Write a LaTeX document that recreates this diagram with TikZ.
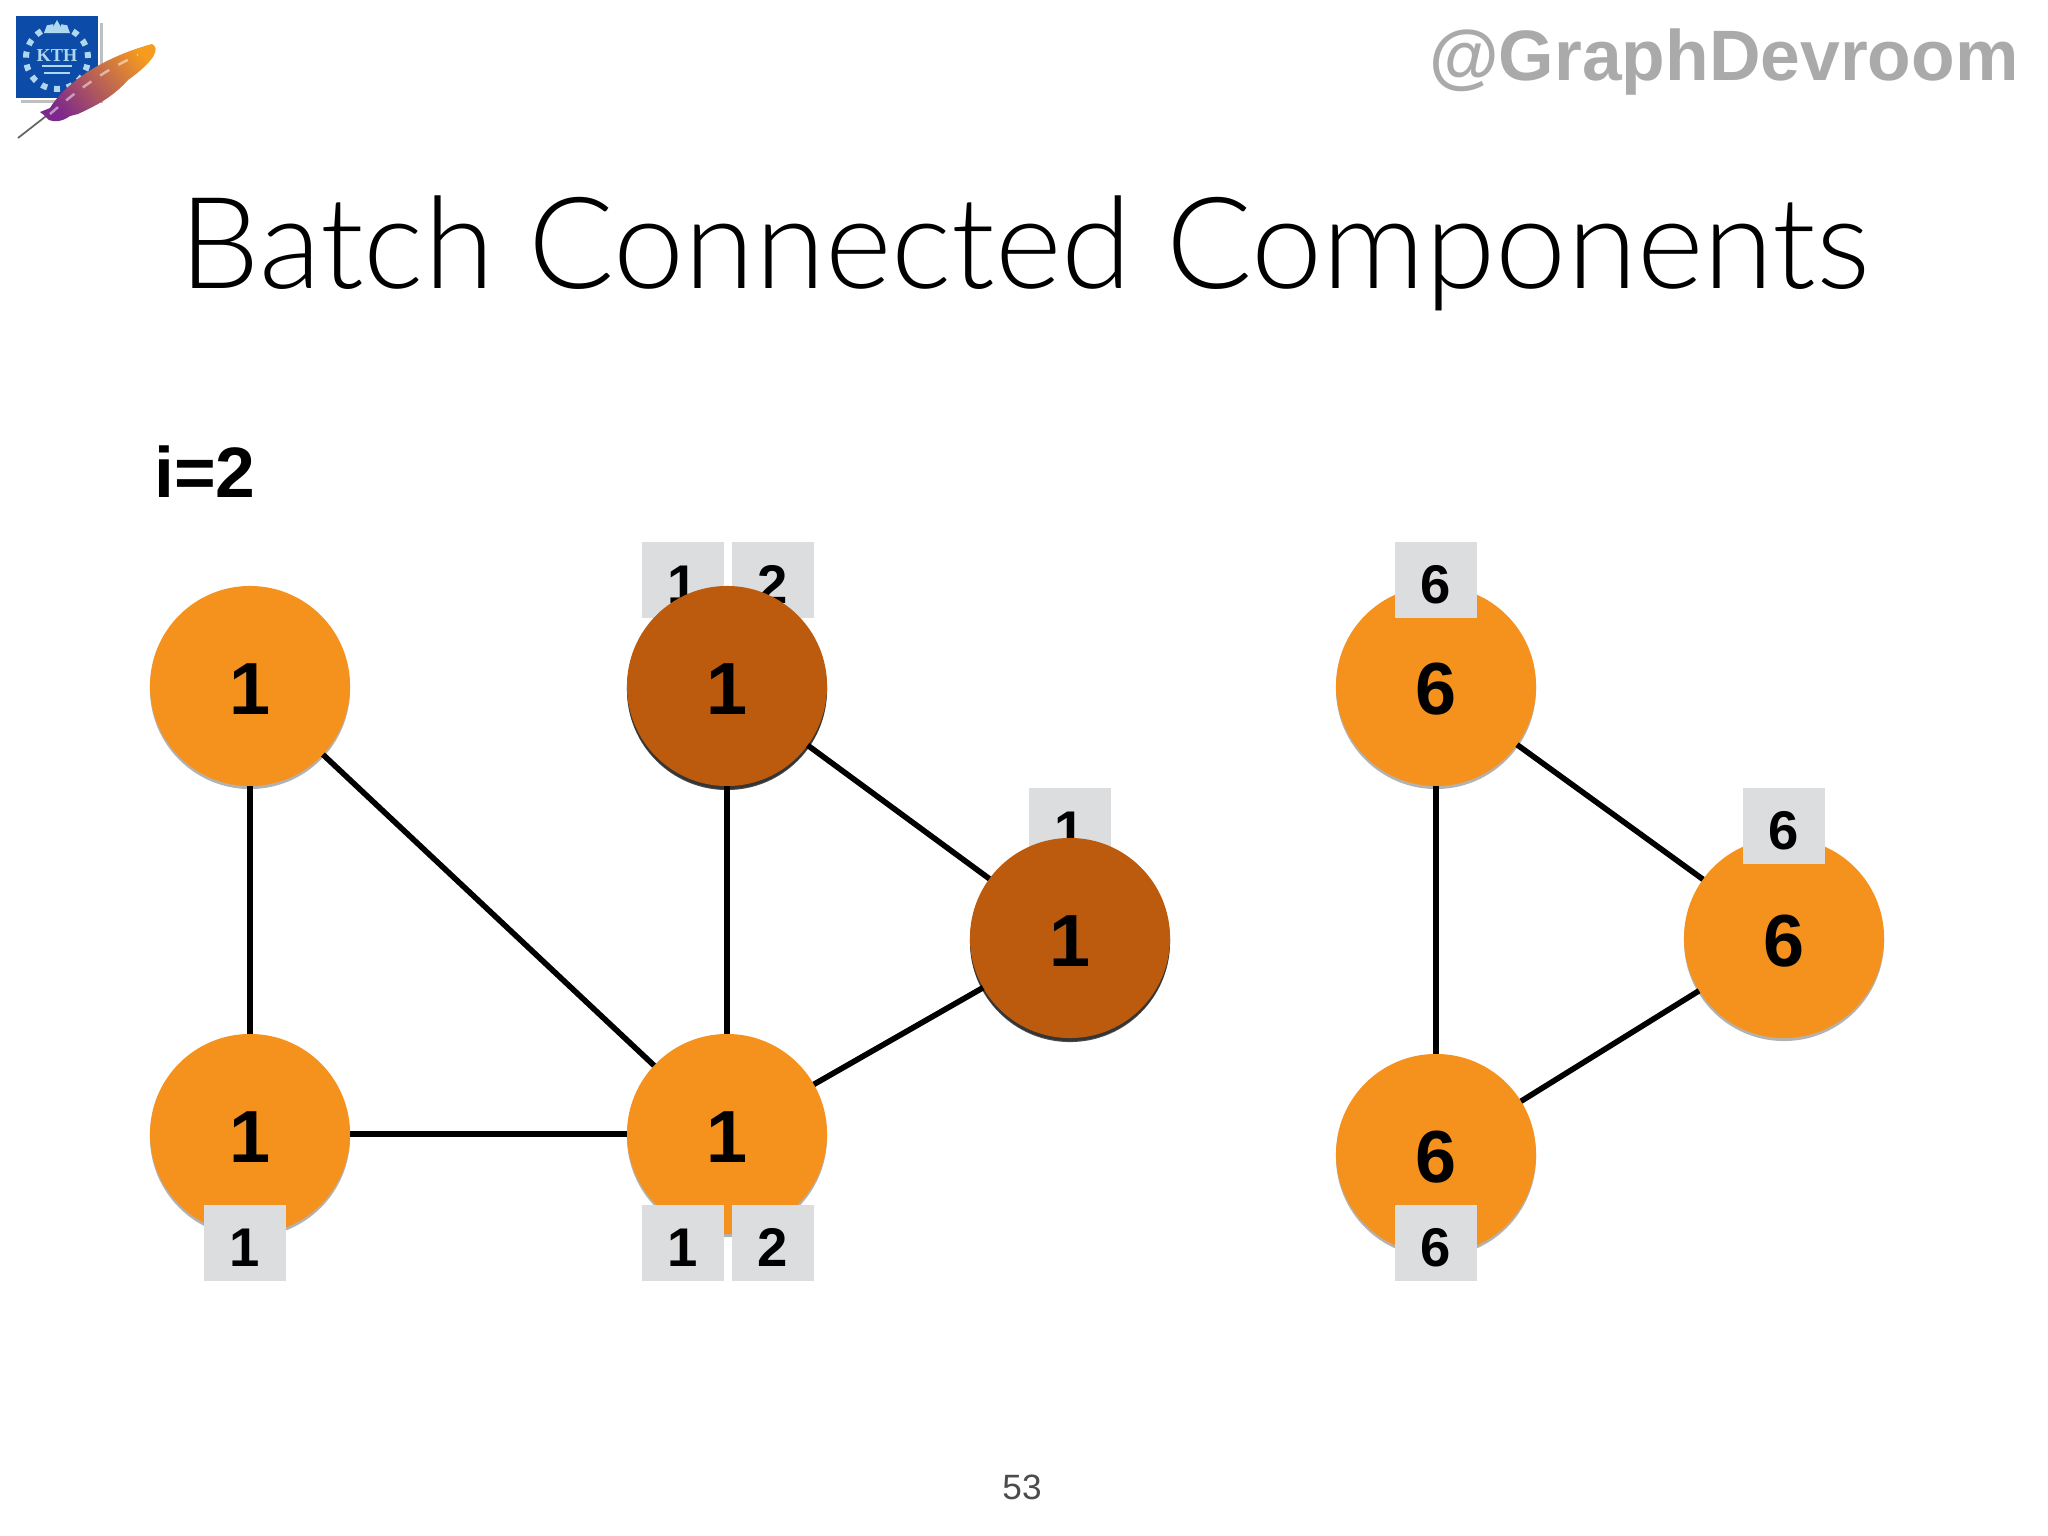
\documentclass[tikz,border=0pt]{standalone}
\usepackage{fontspec}
\setmainfont{Liberation Sans}
\newfontfamily\titlefont{Lato Light}
\newfontfamily\crestfont{Liberation Serif}
\usepackage{xcolor}
\usetikzlibrary{shadows}
\definecolor{amber}{RGB}{245,146,30}
\definecolor{rust}{RGB}{188,91,13}
\definecolor{tagsilver}{RGB}{220,221,223}
\definecolor{handlegray}{RGB}{170,170,170}
\definecolor{kthblue}{RGB}{12,76,168}
\definecolor{crestblue}{RGB}{175,215,238}
\definecolor{plume}{RGB}{125,40,140}
\definecolor{crimson}{RGB}{205,30,75}
\definecolor{plumetip}{RGB}{245,155,30}
\tikzset{%
    main node/.style={%
        circle,fill=amber,text=black,inner sep=0pt,outer sep=0pt,minimum size=2cm,
        font=\fontsize{21}{21}\selectfont\bfseries,text height=16pt,text depth=0pt,
        drop shadow={shadow xshift=0pt,shadow yshift=-0.03cm,opacity=.3,fill=black}
    },
    active node/.style={%
        main node,fill=rust,
        drop shadow={shadow xshift=0pt,shadow yshift=-0.04cm,opacity=.7,fill=black}
    },
    tag/.style={%
        rectangle,fill=tagsilver,inner sep=0pt,minimum width=0.82cm,minimum height=0.76cm,
        font=\fontsize{15.5}{15.5}\selectfont\bfseries,text height=13.4pt,text depth=0pt
    }
}

\begin{document}
\begin{tikzpicture}[x=0.01cm,y=-0.01cm,line width=1.6pt]
  \useasboundingbox (0,0) rectangle (2048,1536);

  % logo
  \fill[black,opacity=.25] (21,23) rectangle (103,103);
  \fill[white] (14,14) rectangle (100,100);
  \fill[kthblue] (16,16) rectangle (98,98);
  \draw[crestblue,line width=1.7pt,dotted] (57,58) circle (0.31cm);
  \fill[crestblue] (44,33) -- (47,25) -- (52,29) -- (57,20) -- (62,29) -- (67,25) -- (70,33) -- cycle;
  \node[text=crestblue,inner sep=0pt,font=\crestfont\bfseries\fontsize{5.2}{5.2}\selectfont] (kth) at (57,56) {KTH};
  \draw[crestblue,line width=.6pt] (42,66) -- (72,66) (44,73) -- (70,73);
  \draw[black!60,line width=.5pt] (18,138) -- (50,113);
  \shade[left color=plume,middle color=crimson,right color=plumetip,shading angle=130]
    (40,112) -- (50,108) .. controls (64,85) and (100,58) .. (152,44)
    .. controls (160,48) and (156,60) .. (128,80)
    .. controls (112,98) and (95,106) .. (78,114) -- (70,116)
    .. controls (62,122) and (54,122) .. (49,120) -- (44,115) -- cycle;
  \draw[white,opacity=.5,line width=.7pt,dashed] (50,114) .. controls (80,88) and (105,70) .. (138,55);

  % header
  \node[inner sep=0pt,font=\titlefont\fontsize{36.25}{36.25}\selectfont] (title) at (1025,253) {Batch Connected Components};
  \node[inner sep=0pt,text=handlegray,font=\fontsize{20.3}{20.3}\selectfont\bfseries] (handle) at (1724,62) {@GraphDevroom};
  \node[inner sep=0pt,font=\fontsize{20.3}{20.3}\selectfont\bfseries] (iter) at (205,472) {i=2};
  \node[inner sep=0pt,text=black!70,font=\fontsize{10}{10}\selectfont] (page) at (1022,1487) {53};

  % tags behind the vertices
  \node[tag] (t1) at (683,580) {1};
  \node[tag] (t2) at (773,580) {2};
  \node[tag] (t3) at (1070,826) {1};

  \node[main node] (1) at (250,686) {1};
  \node[active node] (2) at (727,686) {1};
  \node[active node] (3) at (1070,938) {1};
  \node[main node] (4) at (250,1134) {1};
  \node[main node] (5) at (727,1134) {1};
  \node[main node] (6) at (1436,686) {6};
  \node[main node] (7) at (1784,938) {6};
  \node[main node] (8) at (1436,1154) {6};

  % tags over the vertices
  \node[tag] (t4) at (1436,580) {6};
  \node[tag] (t5) at (1784,826) {6};
  \node[tag] (b1) at (245,1243) {1};
  \node[tag] (b2) at (683,1243) {1};
  \node[tag] (b3) at (773,1243) {2};
  \node[tag] (b4) at (1436,1243) {6};

\path[draw=black]
	(1) edge (4)
	(1) edge (5)
	(2) edge (5)
	(2) edge (3)
	(3) edge (5)
	(4) edge (5)
	(6) edge (7)
	(6) edge (8)
	(7) edge (8);
\end{tikzpicture}
\end{document}
